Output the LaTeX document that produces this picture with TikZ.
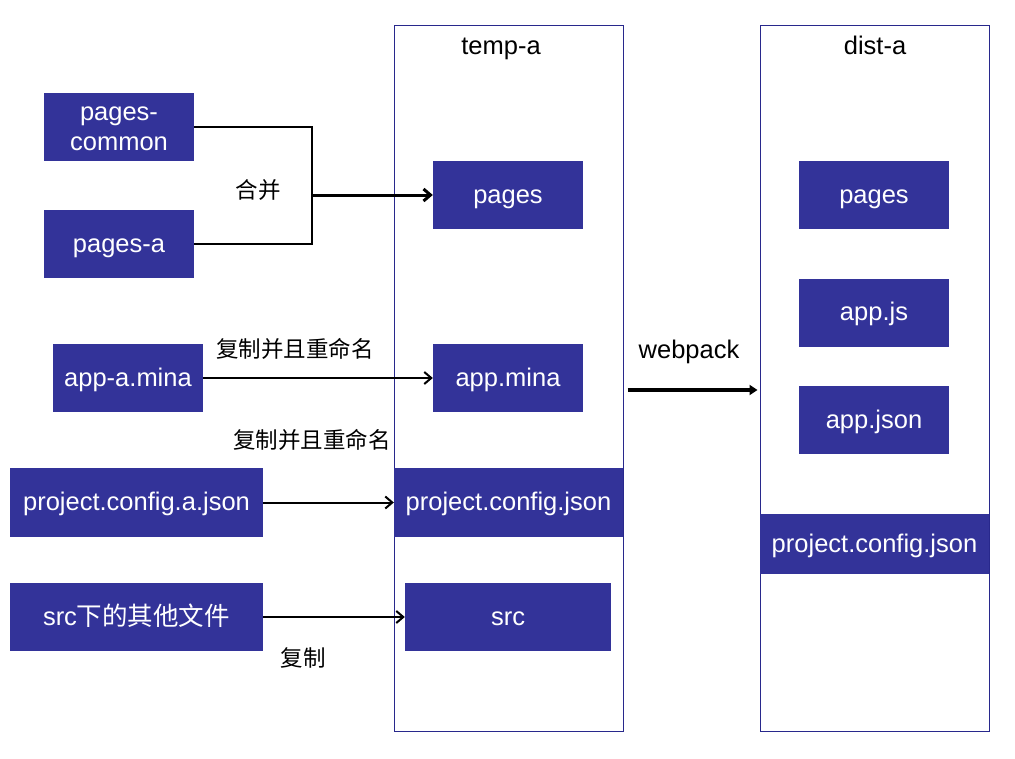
\documentclass[tikz,border=0pt]{standalone}
\usepackage{fontspec}
\setmainfont{Liberation Sans}
\newfontfamily\cjk{Noto Sans CJK SC}
\definecolor{boxblue}{RGB}{51, 51, 153}
\definecolor{framblue}{RGB}{40, 40, 140}
\usetikzlibrary{arrows.meta, positioning, calc}

\begin{document}
\begin{tikzpicture}[x=1pt, y=-1pt,
  label text/.style={font=\fontsize{25.5}{30}\selectfont, text height=21.5pt, text depth=5pt},
  file/.style={label text, fill=boxblue, text=white, inner sep=0pt,
    minimum width=150pt, minimum height=68pt, align=center},
  frame/.style={draw=framblue, line width=1pt, inner sep=0pt, minimum width=229pt, minimum height=706pt},
  note/.style={font=\cjk\fontsize{22.5}{26}\selectfont},
  flow/.style={-{Straight Barb[length=7pt, width=12pt]}, line width=2pt}]
  \useasboundingbox (0, 0) rectangle (1015, 758);

  % Frames
  \node[frame] (temp) at (508.5, 378) {};
  \node[label text] (tempt) at (501, 46) {temp-a};
  \node[frame] (dist) at (874.5, 378) {};
  \node[label text] (distt) at (875, 46) {dist-a};

  % Sources
  \node[file, text height=51.5pt] (pcom) at (119, 127) {pages-\\common};
  \node[file] (pa) at (119, 244) {pages-a};
  \node[file] (appa) at (128, 378) {app-a.mina};
  \node[file, minimum width=253pt, minimum height=69pt] (proja) at (136.5, 502.5) {project.config.a.json};
  \node[file, minimum width=253pt] (srca) at (136.5, 617) {src\cjk 下的其他文件};

  % temp-a
  \node[file] (tpages) at (508, 195) {pages};
  \node[file] (tmina) at (508, 378) {app.mina};
  \node[file, minimum width=229pt, minimum height=69pt] (tproj) at (508.5, 502.5) {project.config.json};
  \node[file, minimum width=206pt] (tsrc) at (508, 617) {src};

  % dist-a
  \node[file] (dpages) at (874, 195) {pages};
  \node[file] (djs) at (874, 312.5) {app.js};
  \node[file] (djson) at (874, 420) {app.json};
  \node[file, minimum width=229pt, minimum height=60pt] (dproj) at (874.5, 544) {project.config.json};

  % Merge
  \coordinate (m) at (312, 195);
  \draw[line width=2pt] (pcom.east) -| (m);
  \draw[line width=2pt] (pa.east) -| (m);
  \draw[flow, line width=3pt] (m) -- (tpages.west);
  \node[note] at (258, 190) {合并};

  % Copies
  \draw[flow] (appa.east) -- (tmina.west);
  \node[note] at (295, 349) {复制并且重命名};
  \draw[flow] (proja.east) -- (tproj.west);
  \node[note] at (312, 440) {复制并且重命名};
  \draw[flow] (srca.east) -- (tsrc.west);
  \node[note] at (303, 658) {复制};

  % Build
  \draw[-{Triangle[length=8pt, width=10pt]}, line width=4pt] (temp.east |- 0, 390) ++(4, 0) -- ($(dist.west |- 0, 390)+(-2, 0)$);
  \node[label text] at (689, 350) {webpack};
\end{tikzpicture}
\end{document}
